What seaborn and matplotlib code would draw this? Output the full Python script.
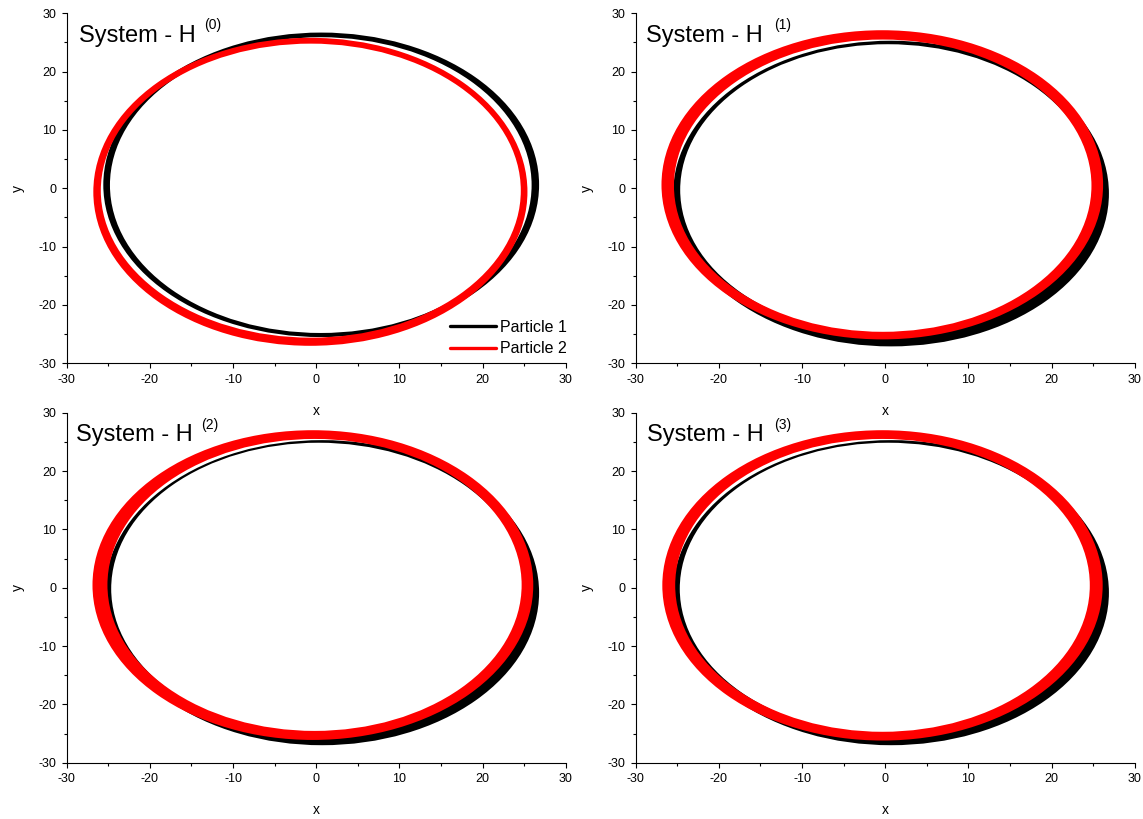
import numpy as np
import matplotlib
matplotlib.use("Agg")
import matplotlib.pyplot as plt
import seaborn as sns
from matplotlib.patches import Ellipse, PathPatch
from matplotlib.path import Path
from matplotlib.lines import Line2D
from matplotlib.ticker import MultipleLocator

# panel superscripts
systemas = ["(0)", "(1)", "(2)", "(3)"]

# Particle 1 (black) band edges: outer / inner ellipse extents
p1_out_xmin = [-25.6, -25.5, -25.4, -25.5]
p1_out_xmax = [26.8, 26.9, 26.8, 26.9]
p1_out_ymin = [-25.5, -27.1, -27.0, -27.0]
p1_out_ymax = [26.7, 25.3, 25.3, 25.3]
p1_in_xmin = [-24.8, -24.65, -24.65, -24.7]
p1_in_xmax = [25.9, 25.3, 25.2, 25.4]
p1_in_ymin = [-24.8, -25.2, -25.2, -25.2]
p1_in_ymax = [25.9, 24.7, 24.85, 24.85]

# Particle 2 (red)
p2_out_xmin = [-26.8, -26.9, -26.9, -26.8]
p2_out_xmax = [25.4, 26.2, 26.1, 26.15]
p2_out_ymin = [-27.0, -25.9, -26.1, -26.2]
p2_out_ymax = [25.8, 27.1, 27.0, 27.0]
p2_in_xmin = [-25.9, -25.4, -25.1, -25.25]
p2_in_xmax = [24.6, 24.8, 24.7, 24.6]
p2_in_ymin = [-25.6, -24.6, -24.55, -24.7]
p2_in_ymax = [24.8, 25.5, 25.5, 25.5]

sns.set_style("ticks")
plt.rcParams["font.family"] = ["Liberation Sans", "DejaVu Sans"]
plt.rcParams["axes.unicode_minus"] = False
plt.rcParams["text.color"] = "black"
plt.rcParams["axes.labelcolor"] = "black"
plt.rcParams["xtick.color"] = "black"
plt.rcParams["ytick.color"] = "black"


def elipse(x0, x1, y0, y1):
    e = Ellipse(((x0 + x1) / 2, (y0 + y1) / 2), x1 - x0, y1 - y0)
    return e.get_patch_transform().transform_path(e.get_path())


def faixa(ax, ext_out, ext_in, cor):
    # annulus between outer and inner orbit envelope
    p_out = elipse(*ext_out)
    p_in = elipse(*ext_in)
    iv = p_in.vertices[:-1][::-1]
    ic = [Path.MOVETO] + [Path.CURVE4] * (len(iv) - 1)
    iv = np.vstack([iv, iv[:1]])
    ic = ic + [Path.CLOSEPOLY]
    caminho = Path.make_compound_path(p_out, Path(iv, ic))
    ax.add_patch(PathPatch(caminho, facecolor=cor, edgecolor="none", lw=0))


fig = plt.figure(figsize=(11.43, 8.19), dpi=100)
posicoes = [
    [0.05836, 0.5564, 0.43657, 0.42735],
    [0.55617, 0.5564, 0.43657, 0.42735],
    [0.05836, 0.06874, 0.43657, 0.42735],
    [0.55617, 0.06874, 0.43657, 0.42735],
]
titulo_x = [0.025, 0.021, 0.018, 0.023]
super_x = [0.275, 0.278, 0.269, 0.277]

for i, pos in enumerate(posicoes):
    ax = fig.add_axes(pos)
    ax.set_facecolor("none")
    faixa(ax, (p1_out_xmin[i], p1_out_xmax[i], p1_out_ymin[i], p1_out_ymax[i]),
          (p1_in_xmin[i], p1_in_xmax[i], p1_in_ymin[i], p1_in_ymax[i]), "black")
    faixa(ax, (p2_out_xmin[i], p2_out_xmax[i], p2_out_ymin[i], p2_out_ymax[i]),
          (p2_in_xmin[i], p2_in_xmax[i], p2_in_ymin[i], p2_in_ymax[i]), "#ff0000")

    ax.set_xlim(-30, 30)
    ax.set_ylim(-30, 30)
    ax.xaxis.set_major_locator(MultipleLocator(10))
    ax.yaxis.set_major_locator(MultipleLocator(10))
    ax.xaxis.set_minor_locator(MultipleLocator(5))
    ax.yaxis.set_minor_locator(MultipleLocator(5))
    ax.tick_params(which="major", length=3.6, width=0.8, color="black",
                   labelsize=9, pad=4, direction="out", labelcolor="black")
    ax.tick_params(which="minor", length=2.2, width=0.8, color="black", direction="out")
    sns.despine(ax=ax)
    for s in ["left", "bottom"]:
        ax.spines[s].set_color("black")
        ax.spines[s].set_linewidth(0.8)
    ax.set_xlabel("x", fontsize=10, labelpad=13, color="black")
    ax.set_ylabel("y", fontsize=10, labelpad=9.5, color="black")

    ax.text(titulo_x[i], 0.919, "System - H", fontsize=17, transform=ax.transAxes,
            va="baseline", ha="left", color="black")
    ax.text(super_x[i], 0.954, systemas[i], fontsize=10, transform=ax.transAxes,
            va="baseline", ha="left", color="black")

    if i == 0:
        alcas = [Line2D([0], [0], color="black", lw=2.4, label="Particle 1"),
                 Line2D([0], [0], color="#ff0000", lw=2.4, label="Particle 2")]
        leg = ax.legend(handles=alcas, loc="lower left", bbox_to_anchor=(0.768, 0.02),
                        frameon=False, fontsize=11.5, handlelength=2.9, handletextpad=0.25,
                        borderpad=0, borderaxespad=0, labelspacing=0.4)
        for t in leg.get_texts():
            t.set_color("black")

fig.savefig("out.png", dpi=100, facecolor="white")
